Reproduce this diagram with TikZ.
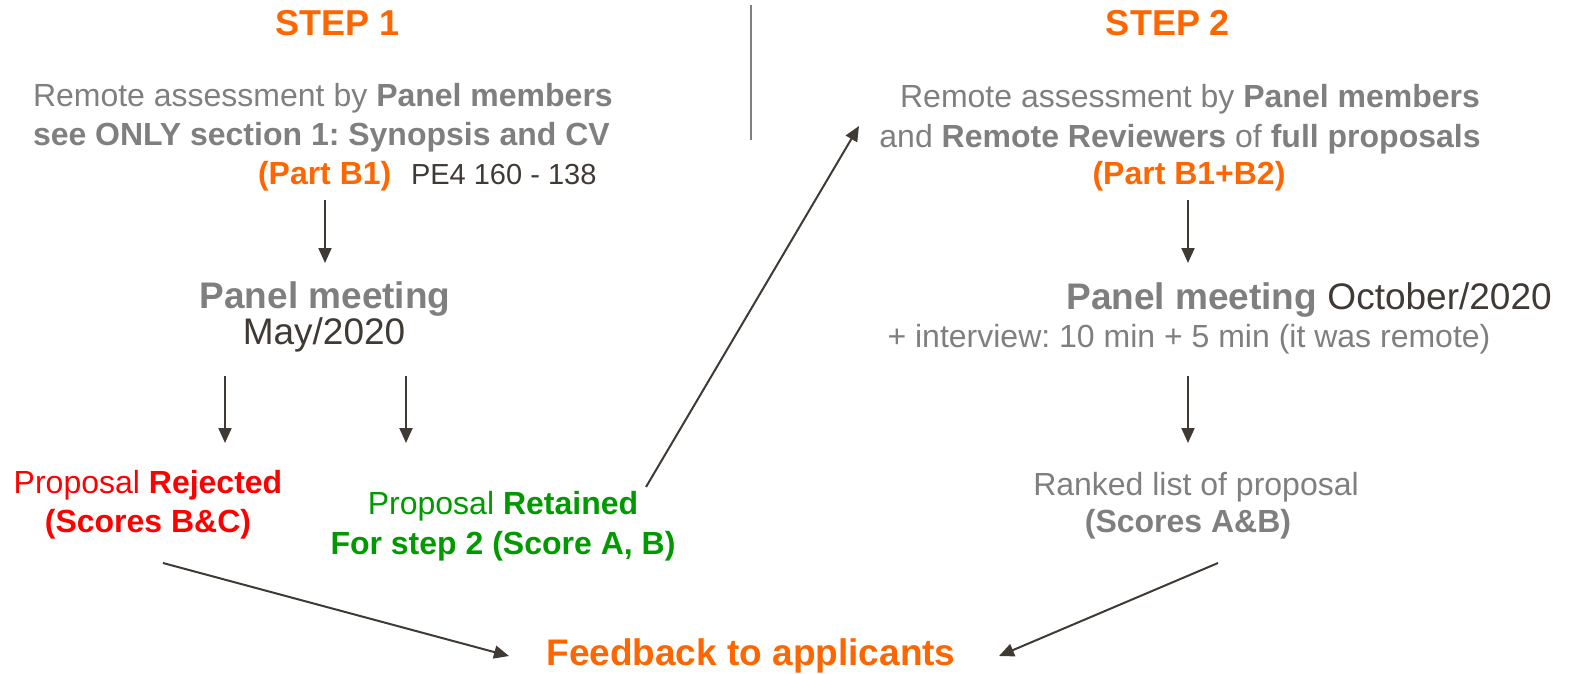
\documentclass[tikz,border=0pt]{standalone}
\usepackage{fontspec}
\setmainfont{Liberation Sans}
\usetikzlibrary{arrows.meta}
\definecolor{stepor}{RGB}{255,102,0}
\definecolor{txtgray}{RGB}{127,127,127}
\definecolor{txtdark}{RGB}{64,58,53}
\definecolor{rejred}{RGB}{255,0,0}
\definecolor{retgreen}{RGB}{0,153,0}
\frenchspacing
\begin{document}
\begin{tikzpicture}[x=1pt,y=-1pt,
  lbl/.style={inner sep=0pt, outer sep=0pt, anchor=base},
  body/.style={lbl, font=\fontsize{32}{38}\selectfont},
  bodyb/.style={lbl, font=\fontsize{32}{38}\selectfont\bfseries},
  big/.style={lbl, font=\fontsize{37}{44}\selectfont},
  bigb/.style={lbl, font=\fontsize{37}{44}\selectfont\bfseries},
  steptitle/.style={lbl, font=\fontsize{36}{43}\selectfont\bfseries, text=stepor},
  flow/.style={draw=txtdark, line width=2pt, -{Triangle[length=15pt,width=13pt]}},
]
\useasboundingbox (0,0) rectangle (1573,674);

% column titles and divider
\node[steptitle] (s1) at (338,36) {STEP 1};
\node[steptitle] (s2) at (1168,36) {STEP 2};
\draw[txtgray, line width=2.2pt] (751,5) -- (751,140);

% step 1
\node[body, anchor=base west, text=txtgray] (l1) at (33,107) {Remote assessment by \textbf{Panel members}};
\node[bodyb, anchor=base west, text=txtgray] (l2) at (33,145) {see ONLY section 1: Synopsis and CV};
\node[bodyb, anchor=base west, text=stepor] (l3) at (258,184) {(Part B1)};
\node[lbl, anchor=base west, font=\fontsize{29}{35}\selectfont, text=txtdark] (pe) at (411,184) {PE4 160 - 138};

\node[bigb, text=txtgray] (pm1) at (325,308) {Panel meeting};
\node[big, text=txtdark] (may) at (324,344) {May/2020};

\node[body, text=rejred] (rj1) at (148,493) {Proposal \textbf{Rejected}};
\node[bodyb, text=rejred] (rj2) at (148,532) {(Scores B\&C)};
\node[body, text=retgreen] (rt1) at (503,514) {Proposal \textbf{Retained}};
\node[bodyb, text=retgreen] (rt2) at (503,554) {For step 2 (Score A, B)};

% step 2
\node[body, text=txtgray] (r1) at (1190,108) {Remote assessment by \textbf{Panel members}};
\node[body, text=txtgray] (r2) at (1180,147) {and \textbf{Remote Reviewers} of \textbf{full proposals}};
\node[bodyb, text=stepor] (r3) at (1189,184) {(Part B1+B2)};

\node[big, text=txtdark] (pm2) at (1309,309) {\textcolor{txtgray}{\bfseries Panel meeting} October/2020};
\node[body, text=txtgray] (iv) at (1189,347) {+ interview: 10 min + 5 min (it was remote)};

\node[body, text=txtgray] (rk1) at (1196,495) {Ranked list of proposal};
\node[bodyb, text=txtgray] (rk2) at (1188,532) {(Scores A\&B)};

% outcome
\node[bigb, text=stepor] (fb) at (751,665) {Feedback to applicants};

% connector ends
\coordinate (a1s) at (325,200);  \coordinate (a1e) at (325,263);
\coordinate (a2s) at (225,376);  \coordinate (a2e) at (225,443);
\coordinate (a3s) at (406,376);  \coordinate (a3e) at (406,443);
\coordinate (a4s) at (646,487);  \coordinate (a4e) at (859,126);
\coordinate (a5s) at (163,563);  \coordinate (a5e) at (509,656);
\coordinate (b1s) at (1188,200); \coordinate (b1e) at (1188,263);
\coordinate (b2s) at (1188,376); \coordinate (b2e) at (1188,443);
\coordinate (b3s) at (1218,563); \coordinate (b3e) at (999,656);

\draw[flow] (a1s) -- (a1e);
\draw[flow] (a2s) -- (a2e);
\draw[flow] (a3s) -- (a3e);
\draw[flow] (a4s) -- (a4e);
\draw[flow] (a5s) -- (a5e);
\draw[flow] (b1s) -- (b1e);
\draw[flow] (b2s) -- (b2e);
\draw[flow] (b3s) -- (b3e);
\end{tikzpicture}
\end{document}
